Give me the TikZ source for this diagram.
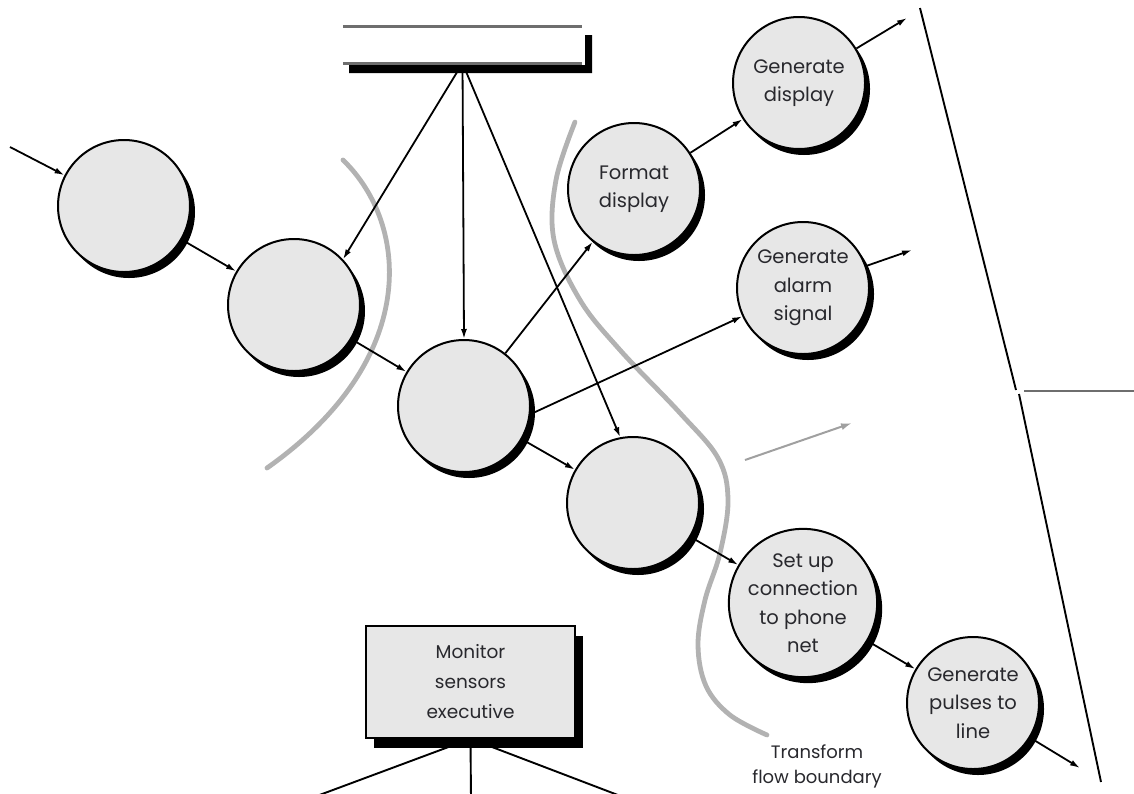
\documentclass[tikz,border=0pt]{standalone}
\usepackage{fontspec}
\setmainfont{Poppins}
\usetikzlibrary{arrows.meta,shadows,backgrounds}
\definecolor{bubblefill}{RGB}{231,231,231}
\definecolor{textgray}{RGB}{40,40,45}
\definecolor{boundgray}{RGB}{178,178,178}
\definecolor{storegray}{RGB}{110,110,110}
\begin{document}
\begin{tikzpicture}[x=1pt,y=-1pt,
  bubble/.style={circle, draw=black, line width=2pt, fill=bubblefill,
    minimum size=132pt, inner sep=0pt, align=center,
    font=\fontsize{19.5}{28.5}\selectfont, text=textgray,
    drop shadow={shadow xshift=5pt, shadow yshift=-6pt, fill=black, opacity=1}},
  execbox/.style={rectangle, draw=black, line width=1.6pt, fill=bubblefill,
    minimum width=209pt, minimum height=112pt, inner sep=0pt, align=center,
    font=\fontsize{18.5}{30}\selectfont, text=textgray,
    drop shadow={shadow xshift=8pt, shadow yshift=-10pt, fill=black, opacity=1}},
  storebox/.style={rectangle, draw=none, minimum width=239pt, minimum height=36pt, inner sep=0pt},
  flow/.style={-{Latex[length=10pt,width=6pt]}, line width=1.8pt, draw=black},
  plain/.style={line width=1.9pt, draw=black},
  boundary/.style={line width=4.8pt, draw=boundgray, line cap=round},
  note/.style={align=center, font=\fontsize{18}{25}\selectfont, text=textgray}]
\useasboundingbox (0,0) rectangle (1134,793);
\clip (0,0) rectangle (1134,793);

% data store
\node[storebox] (store) at (462.5,45) {};
\fill[black] (585,35) -- (592,35) -- (592,73) -- (349,73) -- (349,65) -- (585,65) -- cycle;
\draw[storegray, line width=3pt] (store.north west) -- (store.north east);
\draw[storegray, line width=3pt] (store.south west) -- (store.south east);

% bubbles
\node[bubble] (A)  at (124,206) {};
\node[bubble] (B)  at (294,305) {};
\node[bubble] (C)  at (464,406) {};
\node[bubble] (D)  at (633,503) {};
\node[bubble] (F)  at (634,189) {Format\\display};
\node[bubble] (GD) at (799,83)  {Generate\\display};
\node[bubble] (GA) at (803,288) {Generate\\alarm\\signal};
\node[bubble] (SU) at (803,603) {Set up\\connection\\to phone\\net};
\node[bubble] (GP) at (973,703) {Generate\\pulses to\\line};

% executive box
\node[execbox] (mon) at (470.5,682) {Monitor\\sensors\\executive};

% free ends
\coordinate (in0) at (10,147);
\coordinate (oGD) at (907,18);
\coordinate (oGA) at (912,250);
\coordinate (oGP) at (1080,768);
\coordinate (g0) at (745,460);
\coordinate (g1) at (852,423);
\coordinate (m1) at (306,800);
\coordinate (m2) at (471,800);
\coordinate (m3) at (631,800);
\coordinate (bt) at (920,8);
\coordinate (bm1) at (1016,390);
\coordinate (bm2) at (1019,394);
\coordinate (bb) at (1101,782);
\coordinate (hj) at (1024,391);
\coordinate (he) at (1134,391);

% transform flow boundary label
\node[note] (tfb) at (817,766) {Transform\\flow boundary};

\begin{scope}[on background layer]
  % boundaries
  \draw[boundary] (343,160) .. controls (410,225) and (420,360) .. (267,468);
  \draw[boundary] plot[smooth, tension=0.6] coordinates {(575,122) (556,180) (554,240) (580,300) (620,350) (680,413) (718,458) (728,500) (720,553) (705,600) (698,645) (706,686) (730,715) (767,735)};
  % gray arrow
  \draw[-{Latex[length=11pt,width=7pt]}, line width=2pt, draw=boundgray!90!black, fill=boundgray!90!black] (g0) -- (g1);
  % flows
  \draw[flow] (in0) -- (A);
  \draw[flow] (A) -- (B);
  \draw[flow] (B) -- (C);
  \draw[flow] (C) -- (D);
  \draw[flow] (D) -- (SU);
  \draw[flow] (SU) -- (GP);
  \draw[flow] (GP) -- (oGP);
  \draw[flow] (C) -- (F);
  \draw[flow] (F) -- (GD);
  \draw[flow] (GD) -- (oGD);
  \draw[flow] (C.-7) -- (GA.205);
  \draw[flow] (GA) -- (oGA);
  \draw[flow] (store.south) -- (B.43);
  \draw[flow] (store.south) -- (C.north);
  \draw[flow] (store.south) -- (D.101);
  % executive lines
  \draw[plain] (mon.south) -- (m1);
  \draw[plain] (mon.south) -- (m2);
  \draw[plain] (mon.south) -- (m3);
  % bracket
  \draw[plain] (bt) -- (bm1);
  \draw[plain] (bm2) -- (bb);
  \draw[line width=1.9pt, draw=storegray] (hj) -- (he);
\end{scope}
\end{tikzpicture}
\end{document}
